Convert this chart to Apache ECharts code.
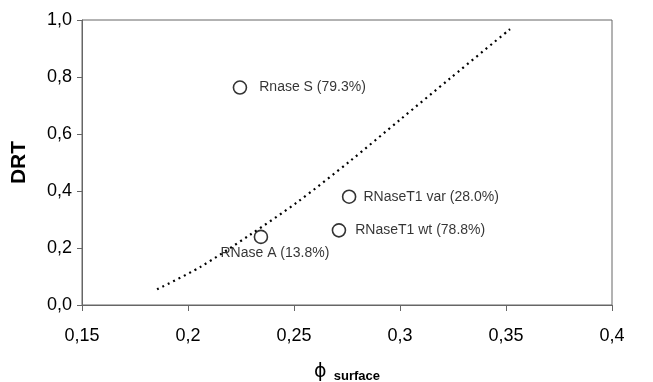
<!DOCTYPE html>
<html>
<head>
<meta charset="utf-8">
<script src="https://cdn.jsdelivr.net/npm/echarts@6/dist/echarts.min.js"></script>
<style>
  html, body { margin: 0; padding: 0; background: #fff; }
  #chart { width: 653px; height: 382px; }
</style>
</head>
<body>
<div id="chart"></div>
<script>
// proteins
var names = ['Rnase S (79.3%)', 'RNase A (13.8%)', 'RNaseT1 var (28.0%)', 'RNaseT1 wt (78.8%)'];
var phiValues = [0.2245, 0.2344, 0.2760, 0.2712];
var drtValues = [0.763, 0.239, 0.380, 0.262];

// dotted trend line
var trendX = [0.1854, 0.2057, 0.2292, 0.2514, 0.2764, 0.3000, 0.3236, 0.3519];
var trendY = [0.055, 0.133, 0.246, 0.360, 0.505, 0.650, 0.795, 0.968];

var dom = document.getElementById('chart');
var chart = echarts.init(dom);

var labelCfg = [
    { position: 'right', distance: 12 },
    { position: 'bottom', distance: 2, offset: [14, 0] },
    { position: 'right', distance: 7 },
    { position: 'right', distance: 9 }
];

var pts = names.map(function (n, i) {
    return {
        name: n,
        value: [phiValues[i], drtValues[i]],
        label: labelCfg[i]
    };
});

var option = {
    animation: false,
    textStyle: { fontFamily: 'Liberation Sans, Arial, sans-serif' },
    grid: {
        left: 82, right: 41, top: 20, bottom: 77,
        containLabel: false,
        outerBoundsMode: 'none',
        show: true, borderColor: '#666', borderWidth: 1
    },
    xAxis: {
        type: 'value',
        min: 0.15, max: 0.4, interval: 0.05,
        name: '{phi|ϕ} {sub|surface}',
        nameLocation: 'middle',
        nameGap: 57,
        nameTextStyle: {
            rich: {
                phi: { fontSize: 19, color: '#000', fontFamily: 'DejaVu Sans' },
                sub: { fontSize: 13, fontWeight: 'bold', color: '#000', padding: [8, 0, 0, 4] }
            }
        },
        axisLine: { lineStyle: { color: '#666' } },
        axisTick: { show: true, length: 6, lineStyle: { color: '#666' } },
        splitLine: { show: false },
        axisLabel: {
            fontSize: 18, color: '#000', margin: 22,
            formatter: function (v) { return String(+v.toFixed(2)).replace('.', ','); }
        }
    },
    yAxis: {
        type: 'value',
        min: 0, max: 1, interval: 0.2,
        name: 'DRT',
        nameLocation: 'middle',
        nameGap: 52,
        nameTextStyle: { fontSize: 21, fontWeight: 'bold', color: '#000' },
        axisLine: { show: true, lineStyle: { color: '#666' } },
        axisTick: { show: true, length: 5, lineStyle: { color: '#666' } },
        splitLine: { show: false },
        axisLabel: {
            fontSize: 18, color: '#000', margin: 10,
            formatter: function (v) { return v.toFixed(1).replace('.', ','); }
        }
    },
    series: [
        {
            type: 'line',
            data: trendX.map(function (x, i) { return [x, trendY[i]]; }),
            smooth: 0.3,
            showSymbol: false,
            lineStyle: { color: '#000', width: 2.2, type: [2, 4] },
            z: 1
        },
        {
            type: 'scatter',
            data: pts,
            symbol: 'circle',
            symbolSize: 13,
            itemStyle: { color: '#fff', borderColor: '#000', borderWidth: 1.6 },
            label: {
                show: true,
                formatter: '{b}',
                fontSize: 14,
                color: '#000'
            },
            z: 3
        }
    ]
};

chart.setOption(option);
</script>
</body>
</html>
